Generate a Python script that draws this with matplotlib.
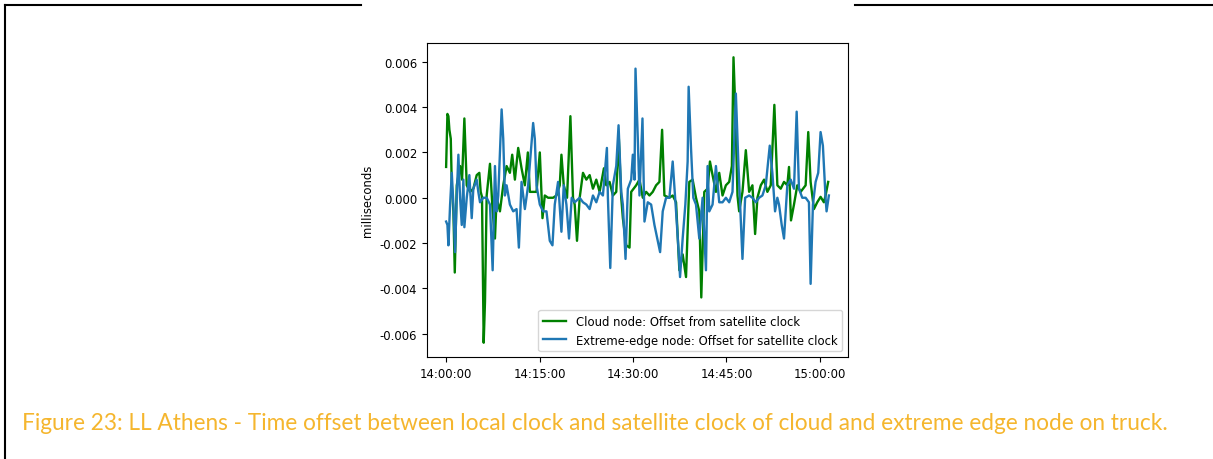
import datetime as dt

import matplotlib
matplotlib.use("Agg")
import matplotlib.pyplot as plt
import matplotlib.dates as mdates
from matplotlib.lines import Line2D

plt.rcParams["axes.unicode_minus"] = False

# minutes after 14:00:00 and clock offset in milliseconds
cloud_min = [
    0.00, 0.21, 0.37, 0.53, 0.75, 0.91, 1.17, 1.39, 1.71, 2.24, 2.56, 2.93,
    3.31, 3.84, 4.37, 4.91, 5.33, 5.55, 5.76, 6.03, 6.24, 6.51, 7.04, 7.47,
    7.84, 8.11, 8.64, 9.17, 9.71, 10.24, 10.61, 11.04, 11.57, 12.11, 12.64,
    13.12, 13.44, 13.97, 14.51, 15.04, 15.47, 15.84, 16.37, 17.17, 17.71,
    18.24, 18.51, 18.88, 19.41, 19.95, 20.37, 20.64, 21.01, 21.44, 21.97,
    22.51, 23.04, 23.57, 24.11, 24.64, 25.33, 25.71, 26.24, 26.77, 27.31,
    27.73, 28.11, 28.37, 28.91, 29.44, 29.71, 30.51, 31.04, 31.57, 32.11,
    32.64, 33.17, 33.71, 34.24, 34.67, 35.04, 35.84, 36.37, 36.91, 37.44,
    37.97, 38.51, 39.04, 39.57, 40.11, 40.64, 40.96, 41.44, 41.97, 42.35,
    42.77, 43.31, 43.84, 44.37, 44.91, 45.44, 45.87, 46.13, 46.40, 46.77,
    47.04, 47.57, 48.11, 48.64, 49.17, 49.60, 49.97, 50.51, 51.04, 51.57,
    52.11, 52.69, 53.17, 53.71, 54.24, 54.77, 55.04, 55.36, 55.84, 56.37,
    56.91, 57.71, 58.13, 58.51, 59.04, 59.57, 60.11, 60.64, 60.91, 61.33,
]
cloud_ms = [
    0.00136, 0.0037, 0.0036, 0.0030, 0.0026, 0.00055, -0.0006, -0.0033,
    0.00055, 0.0014, 0.0008, 0.0035, 0.00055, 0.00026, 0.0004, 0.0010,
    0.0011, 0.00026, 0.00004, -0.0064, -0.0046, 0.0001, 0.0015, -0.0006,
    -0.0018, 0.0, -0.0006, 0.00055, 0.0014, 0.0011, 0.0019, 0.0008, 0.0022,
    0.0013, 0.00055, 0.0020, 0.00026, 0.00026, 0.00026, 0.0020, -0.0009,
    0.0001, 0.0, 0.0, 0.0001, 0.00055, 0.0019, 0.00055, 0.0, 0.0036, 0.0,
    -0.0003, -0.0019, 0.0, 0.0011, 0.0008, 0.0010, 0.0004, 0.0008, 0.00026,
    0.0013, 0.00055, 0.0007, 0.0001, 0.00026, 0.0026, 0.0, -0.0009, -0.0021,
    -0.0022, 0.00026, 0.00055, 0.0008, 0.0, 0.00026, 0.0001, 0.00026,
    0.00055, 0.0007, 0.0030, 0.0001, 0.0, 0.0001, -0.0002, -0.0032, -0.0025,
    -0.0035, 0.0007, 0.0008, 0.0, -0.0006, -0.0044, 0.00026, 0.0004, 0.0016,
    0.0010, 0.00026, 0.0011, 0.0001, 0.00055, 0.0007, 0.0014, 0.0062, 0.0041,
    0.0001, -0.0006, 0.00026, 0.0021, 0.00026, 0.00055, -0.0016, 0.0, 0.00055,
    0.0008, 0.00026, 0.00055, 0.0041, 0.00055, 0.0004, 0.0007, 0.00055,
    0.00136, -0.0010, -0.0003, 0.00055, 0.00026, 0.00055, 0.0029, 0.0007,
    -0.0005, -0.0002, 0.00004, -0.0002, 0.0001, 0.0007,
]

edge_min = [
    0.00, 0.21, 0.37, 0.64, 0.91, 1.17, 1.44, 1.71, 1.97, 2.24, 2.51, 2.77,
    2.93, 3.31, 3.73, 4.11, 4.37, 4.91, 5.17, 5.44, 5.97, 6.51, 7.04, 7.47,
    7.84, 8.11, 8.37, 8.91, 9.17, 9.44, 9.71, 10.24, 10.77, 11.31, 11.68,
    12.11, 12.64, 13.17, 13.97, 14.24, 14.51, 15.04, 15.57, 16.11, 16.64,
    17.07, 17.44, 17.97, 18.51, 18.88, 19.31, 19.73, 20.16, 20.64, 21.44,
    21.97, 22.51, 23.04, 23.57, 24.11, 24.64, 25.17, 25.81, 25.97, 26.35,
    26.77, 27.31, 27.68, 28.11, 28.37, 28.80, 29.17, 29.71, 29.97, 30.24,
    30.40, 30.77, 31.04, 31.52, 31.84, 32.37, 32.91, 33.44, 33.97, 34.35,
    34.77, 35.31, 35.84, 36.37, 36.91, 37.33, 37.55, 37.97, 38.40, 38.77,
    38.93, 39.31, 39.68, 40.11, 40.64, 41.17, 41.71, 41.97, 42.24, 42.77,
    43.31, 43.84, 44.37, 44.91, 45.44, 45.97, 46.51, 46.93, 47.20, 47.57,
    48.00, 48.64, 49.17, 49.71, 50.24, 50.77, 51.31, 51.95, 52.37, 52.80,
    53.17, 53.44, 53.87, 54.24, 54.77, 55.31, 55.84, 56.27, 56.64, 57.17,
    57.71, 58.24, 58.51, 58.88, 59.31, 59.73, 60.11, 60.48, 60.91, 61.07,
    61.44,
]
edge_ms = [
    -0.00105, -0.0012, -0.0021, -0.0003, 0.0011, -0.0003, -0.0024, 0.0001,
    0.0019, 0.0, -0.0012, 0.0008, -0.0013, 0.0, 0.0010, -0.0009, 0.0004,
    0.0008, 0.00026, -0.0002, 0.0, 0.0, -0.0003, -0.0032, 0.0014, -0.0006,
    0.0001, 0.0039, 0.0026, 0.0001, 0.00055, -0.0003, -0.0006, -0.0005,
    -0.0022, 0.0007, -0.0005, 0.00055, 0.0033, 0.0026, 0.00055, -0.0003,
    -0.0006, -0.0006, -0.0019, -0.0021, -0.0003, 0.0007, -0.0015, 0.00055,
    -0.0003, -0.0018, 0.0, -0.0002, 0.0, -0.0002, -0.0003, -0.0005, 0.0001,
    -0.0002, 0.00026, 0.0001, 0.0022, 0.0, -0.0031, 0.00055, 0.0014, 0.0032,
    0.00026, -0.0003, -0.0027, 0.0004, 0.0008, 0.0019, 0.0008, 0.0057,
    0.0026, 0.0001, 0.0035, -0.00105, -0.0002, -0.0003, -0.0012, -0.0019,
    -0.0024, -0.0006, 0.0, 0.0, 0.0016, -0.0006, -0.0024, -0.0035, -0.0018,
    -0.0003, 0.0016, 0.0049, 0.0022, 0.0, -0.0003, -0.0018, 0.0, -0.0032,
    0.0014, -0.0006, -0.0003, 0.0014, -0.0002, -0.0002, 0.0, -0.0002,
    0.00026, 0.0046, 0.0014, -0.0003, -0.0027, 0.0, 0.0001, 0.0, -0.0002,
    0.0, 0.0001, 0.00055, 0.0023, 0.0011, -0.0006, 0.0, -0.0003, -0.0012,
    -0.0018, 0.00055, 0.0008, 0.0004, 0.0038, 0.0004, 0.0, 0.0, -0.0002,
    -0.0038, -0.0003, 0.0007, 0.0011, 0.0029, 0.0023, 0.0, -0.0006, 0.0001,
]

caption = ("Figure 23: LL Athens - Time offset between local clock and satellite "
           "clock of cloud and extreme edge node on truck.")

start = dt.datetime(2020, 1, 1, 14, 0, 0)
cloud_t = [start + dt.timedelta(minutes=m) for m in cloud_min]
edge_t = [start + dt.timedelta(minutes=m) for m in edge_min]

fs = 8.4

fig = plt.figure(figsize=(12.13, 4.6), dpi=100)
ax = fig.add_axes([0.352, 0.2217, 0.3471, 0.6826])

ax.plot(cloud_t, cloud_ms, color="green", lw=1.7,
        label="Cloud node: Offset from satellite clock")
ax.plot(edge_t, edge_ms, color="#1f77b4", lw=1.7,
        label="Extreme-edge node: Offset for satellite clock")

ax.set_ylabel("milliseconds", fontsize=fs)
ax.set_yticks([-0.006, -0.004, -0.002, 0.0, 0.002, 0.004, 0.006])
ax.yaxis.set_major_formatter(plt.FormatStrFormatter("%.3f"))
ax.xaxis.set_major_locator(mdates.MinuteLocator(byminute=[0, 15, 30, 45]))
ax.xaxis.set_major_formatter(mdates.DateFormatter("%H:%M:%S"))
ax.tick_params(labelsize=fs)
ax.legend(loc="lower right", fontsize=fs)

# page borders around the figure
page = dict(color="black", lw=1.5, transform=fig.transFigure)
fig.add_artist(Line2D([5 / 1213, 5 / 1213], [0, 1 - 6 / 460], **page))
fig.add_artist(Line2D([5 / 1213, 361 / 1213], [1 - 6 / 460] * 2, **page))
fig.add_artist(Line2D([855 / 1213, 1], [1 - 6 / 460] * 2, **page))

fig.text(22 / 1213, 1 - 424 / 460, caption, color="#F5B62E",
         family="Lato", fontsize=16.3, va="center", ha="left")

fig.savefig("out.png", dpi=100)
